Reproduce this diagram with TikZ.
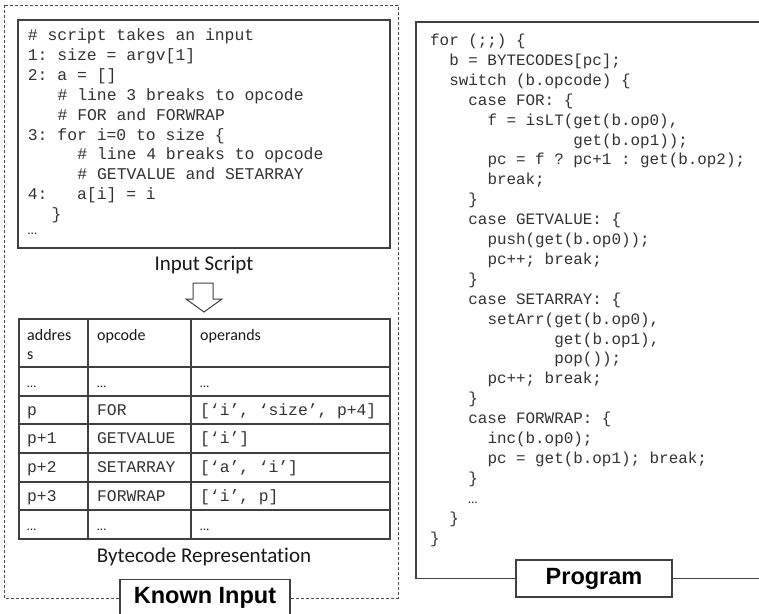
\documentclass[tikz,border=0pt]{standalone}
\usepackage{fontspec}
\setmainfont{Carlito}[Ligatures=NoCommon]
\newfontfamily\monof{Liberation Mono}
\newfontfamily\arialf{Liberation Sans}
\tikzset{
  frame/.style={draw=black!75, line width=1.2pt},
  dashframe/.style={draw=black!70, line width=0.9pt, dash pattern=on 3pt off 2pt},
  code/.style={font=\monof\frenchspacing\fontsize{16.4}{19.9}\selectfont, inner sep=0pt, text=black!80, anchor=base west},
  pcode/.style={font=\monof\frenchspacing\fontsize{15.9}{19.9}\selectfont, inner sep=0pt, text=black!80, anchor=base west},
  hdr/.style={font=\fontsize{16}{18}\selectfont, inner sep=0pt, anchor=base west, text=black!90},
  cell/.style={font=\monof\frenchspacing\fontsize{16.3}{19}\selectfont, inner sep=0pt, anchor=base west, text=black!80},
  dots/.style={font=\fontsize{13}{15}\selectfont, inner sep=0pt, anchor=base west, text=black!85},
  caption/.style={font=\fontsize{21}{24}\selectfont, inner sep=0pt, anchor=base, text=black!90},
  tag/.style={draw=black!75, line width=1.2pt, fill=white, font=\arialf\bfseries\fontsize{23.5}{26}\selectfont, minimum height=37pt, inner sep=0pt},
  arrowshape/.style={draw=black!75, line width=1pt, fill=white, line join=miter},
}
\newcommand\inl[3]{\node[code] (in#1) at ({27.7+#2*9.9},{40.5+(#1-1)*19.9}) {#3};}
\newcommand\prl[3]{\node[pcode] (pr#1) at ({430+#2*9.55},{45.5+(#1-1)*19.9}) {#3};}
\newcommand\prdots[2]{\node[dots] (pr#1) at ({430+#2*9.55},{45.5+(#1-1)*19.9}) {…};}
\begin{document}
\frenchspacing
\begin{tikzpicture}[x=1pt,y=-1pt]
\useasboundingbox (0,0) rectangle (759,613);
\fill[white] (0,0) rectangle (759,613);

% ---------- Known input (left) ----------
\draw[dashframe] (4,5) rectangle (398,598);

% input script box
\draw[frame] (18,20) rectangle (390,248);
\inl{1}{0}{\# script takes an input}
\inl{2}{0}{1: size = argv[1]}
\inl{3}{0}{2: a = []}
\inl{4}{3}{\# line 3 breaks to opcode}
\inl{5}{3}{\# FOR and FORWRAP}
\inl{6}{0}{3: for i=0 to size \{}
\inl{7}{5}{\# line 4 breaks to opcode}
\inl{8}{5}{\# GETVALUE and SETARRAY}
\inl{9}{0}{4:~~~a[i] = i}
\inl{10}{2.4}{\}}
\node[dots] (in11) at (27.7,234.5) {…};

\node[caption] (cap1) at (204,270) {Input Script};

% hollow down arrow
\draw[arrowshape] (193,283) -- (213,283) -- (213,299) -- (222,299) -- (204,312)
  -- (186,299) -- (193,299) -- cycle;

% table
\draw[frame] (19,319) rectangle (390,539);
\foreach \yy in {367,396,424,453,482,510} \draw[frame] (19,\yy) -- (390,\yy);
\foreach \xx in {88,191} \draw[frame] (\xx,319) -- (\xx,539);

\node[hdr] (h1) at (27,340) {addres};
\node[hdr] (h1b) at (27,359) {s};
\node[hdr] (h2) at (97,340) {opcode};
\node[hdr] (h3) at (200,340) {operands};

\node[dots] (r1a) at (27,387) {…};
\node[dots] (r1b) at (97,387) {…};
\node[dots] (r1c) at (200,387) {…};

\node[cell] (r2a) at (27,415) {p};
\node[cell] (r2b) at (97,415) {FOR};
\node[cell] (r2c) at (200,415) {[‘i’, ‘size’, p+4]};

\node[cell] (r3a) at (27,443.5) {p+1};
\node[cell] (r3b) at (97,443.5) {GETVALUE};
\node[cell] (r3c) at (200,443.5) {[‘i’]};

\node[cell] (r4a) at (27,472.5) {p+2};
\node[cell] (r4b) at (97,472.5) {SETARRAY};
\node[cell] (r4c) at (200,472.5) {[‘a’, ‘i’]};

\node[cell] (r5a) at (27,501) {p+3};
\node[cell] (r5b) at (97,501) {FORWRAP};
\node[cell] (r5c) at (200,501) {[‘i’, p]};

\node[dots] (r6a) at (27,530) {…};
\node[dots] (r6b) at (97,530) {…};
\node[dots] (r6c) at (200,530) {…};

\node[caption] (cap2) at (204,562) {Bytecode Representation};

\node[tag, minimum width=170pt] (known) at (205,598) {Known Input};

% ---------- Program (right) ----------
\draw[frame] (770,22) -- (416,22) -- (416,578.5) -- (770,578.5);
\prl{1}{0}{for (;;) \{}
\prl{2}{2}{b = BYTECODES[pc];}
\prl{3}{2}{switch (b.opcode) \{}
\prl{4}{4}{case FOR: \{}
\prl{5}{6}{f = isLT(get(b.op0),}
\prl{6}{15}{get(b.op1));}
\prl{7}{6}{pc = f ? pc+1 : get(b.op2);}
\prl{8}{6}{break;}
\prl{9}{4}{\}}
\prl{10}{4}{case GETVALUE: \{}
\prl{11}{6}{push(get(b.op0));}
\prl{12}{6}{pc++; break;}
\prl{13}{4}{\}}
\prl{14}{4}{case SETARRAY: \{}
\prl{15}{6}{setArr(get(b.op0),}
\prl{16}{13}{get(b.op1),}
\prl{17}{13}{pop());}
\prl{18}{6}{pc++; break;}
\prl{19}{4}{\}}
\prl{20}{4}{case FORWRAP: \{}
\prl{21}{6}{inc(b.op0);}
\prl{22}{6}{pc = get(b.op1); break;}
\prl{23}{4}{\}}
\prdots{24}{4}
\prl{25}{2}{\}}
\prl{26}{0}{\}}

\node[tag, minimum width=156pt] (program) at (594,578.5) {Program};
\end{tikzpicture}
\end{document}
